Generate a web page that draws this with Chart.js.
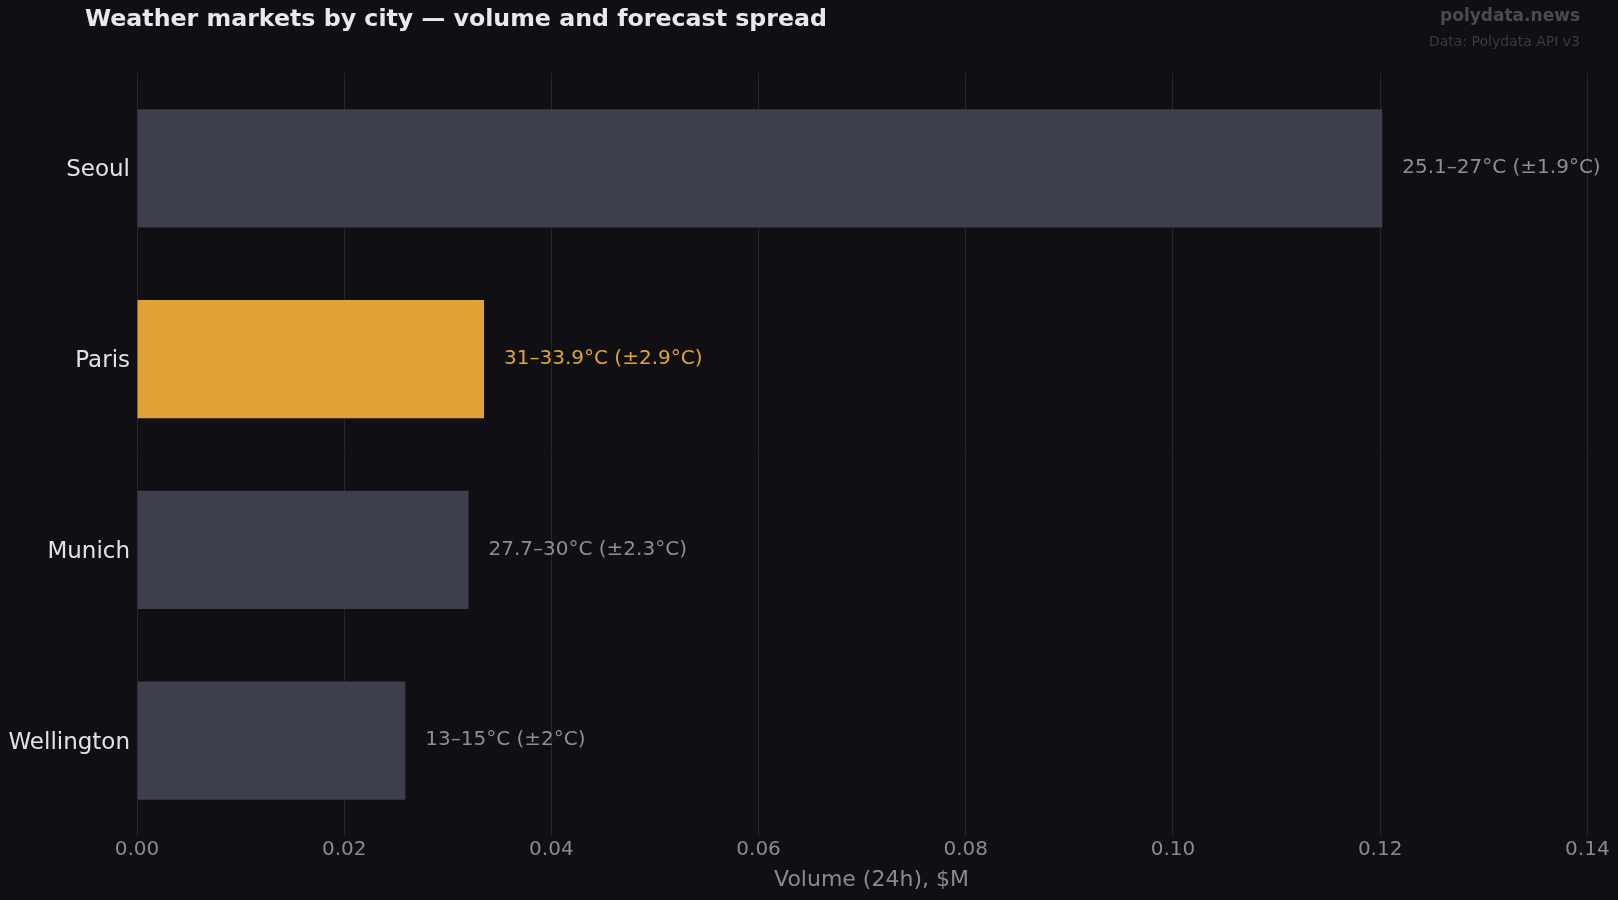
<!DOCTYPE html>
<html>
<head>
<meta charset="utf-8">
<script src="https://cdn.jsdelivr.net/npm/chart.js@4.4.1/dist/chart.umd.min.js"></script>
<style>
html,body{margin:0;padding:0;background:#0f0f14;}
canvas{display:block;}
</style>
</head>
<body>
<canvas id="c" width="1618" height="900"></canvas>
<script>
const cities = ['Seoul', 'Paris', 'Munich', 'Wellington'];
const volumes = [0.1202, 0.0335, 0.0320, 0.0259];
const rangeLabels = ['25.1–27°C (±1.9°C)', '31–33.9°C (±2.9°C)', '27.7–30°C (±2.3°C)', '13–15°C (±2°C)'];
const highlightCity = 'Paris';
const xMin = 0, xMax = 0.1418, xStep = 0.02;

const BG = '#0f0f14';
const BAR = '#3d3f4c';
const HI = '#e1a336';
const FONT = "'DejaVu Sans', sans-serif";

const barColors = cities.map(c => c === highlightCity ? HI : BAR);
const labelColors = cities.map(c => c === highlightCity ? '#e3a535' : '#8e8e96');

const deco = {
  id: 'deco',
  beforeDraw(chart) {
    const ctx = chart.ctx;
    ctx.save();
    ctx.fillStyle = BG;
    ctx.fillRect(0, 0, chart.width, chart.height);
    ctx.restore();
  },
  afterDatasetsDraw(chart) {
    const ctx = chart.ctx;
    const meta = chart.getDatasetMeta(0);
    ctx.save();
    ctx.font = '20px ' + FONT;
    ctx.textAlign = 'left';
    ctx.textBaseline = 'middle';
    meta.data.forEach((bar, i) => {
      ctx.fillStyle = labelColors[i];
      ctx.fillText(rangeLabels[i], bar.x + 20, bar.y - 0.5);
    });
    ctx.restore();
  },
  afterDraw(chart) {
    const ctx = chart.ctx;
    const area = chart.chartArea;
    ctx.save();
    ctx.textBaseline = 'middle';
    ctx.textAlign = 'left';
    ctx.fillStyle = '#e8e8ee';
    ctx.font = 'bold 23.7px ' + FONT;
    ctx.fillText('Weather markets by city — volume and forecast spread', 85, 19.5);
    ctx.textAlign = 'right';
    ctx.fillStyle = '#4a4a52';
    ctx.font = 'bold 17px ' + FONT;
    ctx.fillText('polydata.news', 1580, 17);
    ctx.fillStyle = '#3a3a42';
    ctx.font = '14px ' + FONT;
    ctx.fillText('Data: Polydata API v3', 1580, 42);
    ctx.textAlign = 'center';
    ctx.fillStyle = '#8a8a92';
    ctx.font = '22px ' + FONT;
    ctx.fillText('Volume (24h), $M', (area.left + area.right) / 2, 880);
    ctx.restore();
  }
};

new Chart(document.getElementById('c'), {
  type: 'bar',
  data: {
    labels: cities,
    datasets: [{
      data: volumes,
      backgroundColor: barColors,
      borderWidth: 0,
      barPercentage: 0.62,
      categoryPercentage: 1.0
    }]
  },
  options: {
    indexAxis: 'y',
    responsive: false,
    animation: false,
    layout: { padding: { top: 73, right: 12, left: 0, bottom: 0 } },
    plugins: {
      legend: { display: false },
      tooltip: { enabled: false },
      title: { display: false }
    },
    scales: {
      x: {
        type: 'linear',
        min: xMin,
        max: xMax,
        afterFit(s) { s.height = 64; },
        grid: { color: '#25252c', lineWidth: 1, drawTicks: false },
        border: { display: false },
        ticks: {
          stepSize: xStep,
          includeBounds: false,
          padding: 2,
          color: '#8a8a92',
          font: { family: FONT, size: 20 },
          callback: v => Number(v).toFixed(2)
        }
      },
      y: {
        afterFit(s) { s.width = 137; },
        grid: { display: false, drawTicks: false },
        border: { display: false },
        ticks: {
          padding: 7,
          labelOffset: 2,
          color: '#e2e2e8',
          font: { family: FONT, size: 23 }
        }
      }
    }
  },
  plugins: [deco]
});
</script>
</body>
</html>
